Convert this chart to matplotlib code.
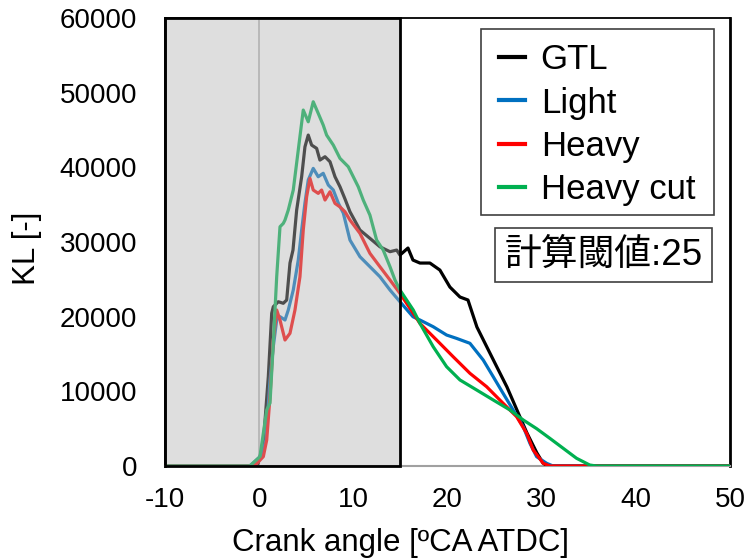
import matplotlib
matplotlib.use("Agg")
import matplotlib.pyplot as plt
from matplotlib.patches import Rectangle

plt.rcParams['font.family'] = ['Liberation Sans', 'Noto Sans CJK JP', 'DejaVu Sans']
plt.rcParams['axes.unicode_minus'] = False

# Crank angle [deg ATDC] and KL values for each fuel
gtl_x = [-10, -1.0, -0.13, 0.08, 0.44, 0.97, 1.33, 1.50, 2.03, 2.56, 2.92, 3.27, 3.59, 3.98,
         4.51, 4.86, 5.21, 5.57, 6.10, 6.45, 6.99, 7.52, 8.05, 8.58, 9.1, 9.64, 10.7, 11.76,
         12.82, 13.89, 14.6, 14.95, 15.8, 16.33, 17.07, 18.13, 19.19, 20.25, 21.32, 22.17,
         23.12, 24.18, 25.24, 26.31, 27.37, 28.43, 29.49, 30.13, 30.6, 50]
gtl_y = [0, 0, 300, 1200, 3040, 11960, 20450, 21330, 22000, 21790, 22230, 27180, 28920, 34280,
         38740, 42750, 44320, 42980, 42540, 40970, 41420, 40750, 38740, 37400, 35800, 34050, 31600, 30490,
         29360, 28700, 28920, 28250, 29190, 27580, 27180, 27180, 26240, 23970, 22630, 22230,
         18610, 15930, 13260, 10580, 7500, 4420, 1740, 400, 0, 0]

light_x = [-10, -1.0, 0.3, 0.72, 1.15, 1.50, 1.86, 2.21, 2.74, 3.09, 3.62, 4.15, 4.51, 4.86,
           5.21, 5.74, 6.27, 6.80, 7.34, 7.87, 8.40, 8.93, 9.64, 10.7, 11.76, 12.82, 13.89,
           14.95, 16.33, 17.07, 18.48, 19.90, 20.96, 22.38, 23.79, 24.85, 25.90, 26.97, 28.04,
           28.75, 29.46, 30.52, 31.2, 50]
light_y = [0, 0, 1470, 3480, 11500, 16000, 19550, 20000, 19550, 20890, 23570, 27580, 31600, 35220,
           38300, 39860, 38740, 39200, 37630, 36960, 35220, 33880, 30260, 28030, 26690, 25350, 23570,
           22000, 19990, 19550, 18650, 17540, 17090, 16430, 14190, 11960, 9730, 7500, 5260,
           3040, 1250, 360, 0, 0]

heavy_x = [-10, -0.5, 0.44, 0.80, 1.15, 1.50, 1.86, 2.21, 2.74, 3.27, 3.80, 4.33, 4.68, 5.04,
           5.39, 5.74, 6.27, 6.63, 6.99, 7.52, 8.05, 8.58, 9.11, 9.64, 10.7, 11.76, 12.82,
           13.89, 14.95, 16.36, 17.07, 18.84, 20.60, 22.38, 24.15, 25.90, 27.34, 28.40, 29.10,
           30.16, 30.87, 50]
heavy_y = [0, 0, 1250, 3480, 9280, 16870, 20890, 19550, 16870, 17770, 20890, 25350, 31600, 36060,
           38520, 36960, 36510, 36960, 35620, 36730, 35170, 34700, 34050, 32940, 31160, 28480, 26690,
           24910, 23120, 20450, 19100, 16870, 14630, 12410, 10620, 8400, 6600, 4380, 2140,
           360, 0, 0]

heavycut_x = [-10, -1.0, 0.08, 0.80, 1.15, 1.50, 1.86, 2.21, 2.56, 2.74, 3.09, 3.62, 4.68, 5.21,
              5.74, 6.27, 6.80, 7.16, 7.87, 8.58, 9.46, 10.52, 11.05, 11.76, 12.47, 13.17,
              13.89, 14.42, 14.95, 16.36, 17.07, 18.48, 19.90, 21.32, 23.09, 24.85, 26.63, 28.04,
              29.46, 30.87, 32.28, 33.70, 35.1, 35.8, 50]
heavycut_y = [0, 0, 1250, 7500, 8440, 16470, 25350, 32040, 32490, 32940, 34280, 36960, 47670, 46100,
              48780, 47230, 45660, 44320, 42980, 41200, 40080, 37400, 35620, 33600, 30260, 28920,
              26690, 24910, 23570, 20890, 19100, 15970, 13300, 11520, 10180, 8840, 7500, 6160,
              5000, 3700, 2370, 1030, 130, 0, 0]

labels = ["GTL", "Light", "Heavy", "Heavy cut"]
colors = ["#000000", "#0070c0", "#ff0000", "#00b050"]
series = [(gtl_x, gtl_y), (light_x, light_y), (heavy_x, heavy_y), (heavycut_x, heavycut_y)]

xticks = [-10, 0, 10, 20, 30, 40, 50]
yticks = [0, 10000, 20000, 30000, 40000, 50000, 60000]

fig = plt.figure(figsize=(7.48, 5.59), dpi=100)
ax = fig.add_axes([0.2206, 0.1664, 0.976 - 0.2206, 0.9678 - 0.1664])

handles = []
for (xs, ys), lab, col in zip(series, labels, colors):
    h, = ax.plot(xs, ys, color=col, lw=2.3, label=lab, zorder=3)
    handles.append(h)

# zero reference line and the analysis window (-10 to 15 deg) shaded over the curves
ax.axvline(0, color="#b0b0b0", lw=1.2, zorder=2)
ax.add_patch(Rectangle((-10, 0), 25, 60000, facecolor="#b4b4b4", alpha=0.44,
                       edgecolor="none", zorder=4))
ax.add_patch(Rectangle((-10, 0), 25, 60000, facecolor="none", edgecolor="black",
                       lw=2.0, zorder=5, clip_on=False))

ax.set_xlim(-10, 50)
ax.set_ylim(0, 60000)
ax.set_xticks(xticks)
ax.set_yticks(yticks)
ax.tick_params(axis="y", length=0, labelsize=20, pad=20)
ax.tick_params(axis="x", length=0, labelsize=20, pad=15)
ax.set_xlabel("Crank angle [ºCA ATDC]", fontsize=22.5)
ax.set_ylabel("KL [-]", fontsize=22.5)
ax.xaxis.set_label_coords(0.416, -0.138)
ax.yaxis.set_label_coords(-0.218, 0.487)

ax.spines["bottom"].set_color("#a0a0a0")
ax.spines["bottom"].set_linewidth(1.5)
ax.spines["top"].set_linewidth(1.3)
ax.spines["right"].set_linewidth(2.0)
ax.spines["left"].set_linewidth(2.0)

# legend box drawn as its own frame around a frameless legend
ax.add_patch(Rectangle((0.5593, 0.5603), 0.9717 - 0.5593, 0.9754 - 0.5603,
                       transform=ax.transAxes, facecolor="white", edgecolor="#404040",
                       lw=1.2, zorder=6))
leg = ax.legend(handles=handles, loc="upper left", bbox_to_anchor=(0.5912, 0.944),
                fontsize=25, frameon=False, handlelength=0.75,
                handletextpad=0.45, labelspacing=0.3, borderpad=0.0, borderaxespad=0)
leg.set_zorder(7)
for line in leg.get_lines():
    line.set_linewidth(3.0)

ax.text(0.776, 0.471, "計算閾値:25", transform=ax.transAxes, ha="center", va="center",
        fontsize=26.5, family=["Liberation Sans", "Noto Sans CJK JP"], zorder=7,
        bbox=dict(boxstyle="square,pad=0.25", facecolor="white", edgecolor="#404040", lw=1.2))

fig.savefig("out.png", dpi=100)
